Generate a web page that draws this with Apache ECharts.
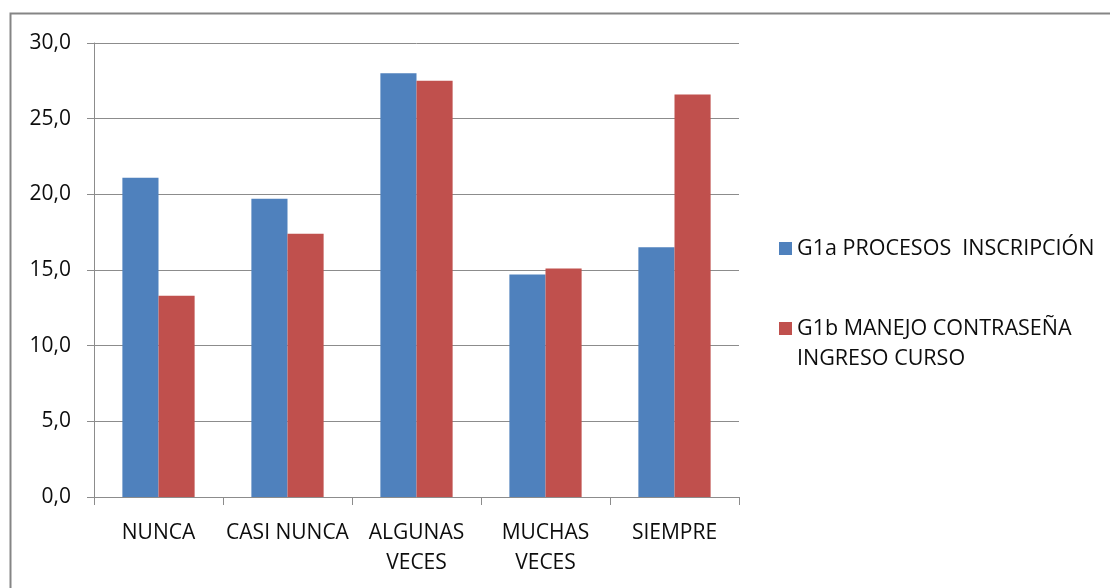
<!DOCTYPE html>
<html>
<head>
<meta charset="utf-8">
<script src="https://cdn.jsdelivr.net/npm/echarts@6/dist/echarts.min.js"></script>
<style>
  html, body { margin: 0; padding: 0; background: #fff; }
  #chart { width: 1110px; height: 588px; }
</style>
</head>
<body>
<div id="chart"></div>
<script>
// Response categories (x axis)
const categories = ['NUNCA', 'CASI NUNCA', 'ALGUNAS\nVECES', 'MUCHAS\nVECES', 'SIEMPRE'];

// Series names
const seriesNameA = 'G1a PROCESOS  INSCRIPCIÓN';
const seriesNameB = 'G1b MANEJO CONTRASEÑA\nINGRESO CURSO';

// Percentages per category
const valuesA = [21.1, 19.7, 28.0, 14.7, 16.5];
const valuesB = [13.3, 17.4, 27.5, 15.1, 26.6];

// Value axis ticks
const yMin = 0;
const yMax = 30;
const yStep = 5;

const FONT = '"Open Sans", "Noto Sans", sans-serif';
const GRID_GRAY = '#8c8c8c';
const TEXT_COLOR = '#0d0d0d';

const chart = echarts.init(document.getElementById('chart'), null, { renderer: 'canvas' });

chart.setOption({
  backgroundColor: '#ffffff',
  animation: false,
  textStyle: { fontFamily: FONT },
  graphic: [{
    type: 'rect',
    shape: { x: 10.5, y: 13.5, width: 1200, height: 700 },
    style: { fill: 'none', stroke: '#858585', lineWidth: 2 },
    silent: true,
    z: -10
  }],
  grid: { left: 94, right: 371, top: 43, bottom: 91, containLabel: false },
  legend: {
    orient: 'vertical',
    left: 779,
    top: 233.5,
    padding: 0,
    itemWidth: 13,
    itemHeight: 13,
    itemGap: 20,
    icon: 'rect',
    selectedMode: false,
    // a blank leading line keeps the marker level with the first line of a wrapped name
    formatter: name => (name.indexOf('\n') >= 0 ? '\n' + name : name),
    textStyle: { fontFamily: FONT, fontSize: 21.5, color: TEXT_COLOR, lineHeight: 30 },
    data: [seriesNameA, seriesNameB]
  },
  xAxis: {
    type: 'category',
    data: categories,
    axisLine: { show: true, lineStyle: { color: GRID_GRAY, width: 1 } },
    axisTick: { show: true, length: 8, inside: false, alignWithLabel: false, lineStyle: { color: GRID_GRAY } },
    axisLabel: {
      interval: 0,
      margin: 21,
      fontFamily: FONT,
      fontSize: 21,
      lineHeight: 30,
      color: TEXT_COLOR
    }
  },
  yAxis: {
    type: 'value',
    min: yMin,
    max: yMax,
    interval: yStep,
    axisLine: { show: true, lineStyle: { color: GRID_GRAY, width: 1 } },
    axisTick: { show: true, length: 7, lineStyle: { color: GRID_GRAY } },
    splitLine: { show: true, lineStyle: { color: GRID_GRAY, width: 1 } },
    axisLabel: {
      margin: 23,
      fontFamily: FONT,
      fontSize: 21,
      color: TEXT_COLOR,
      formatter: v => v.toFixed(1).replace('.', ',')
    }
  },
  series: [
    {
      name: seriesNameA,
      type: 'bar',
      data: valuesA,
      barGap: '0%',
      barCategoryGap: '44%',
      itemStyle: { color: '#4F81BD' }
    },
    {
      name: seriesNameB,
      type: 'bar',
      data: valuesB,
      barGap: '0%',
      barCategoryGap: '44%',
      itemStyle: { color: '#C0504D' }
    }
  ]
});
</script>
</body>
</html>
